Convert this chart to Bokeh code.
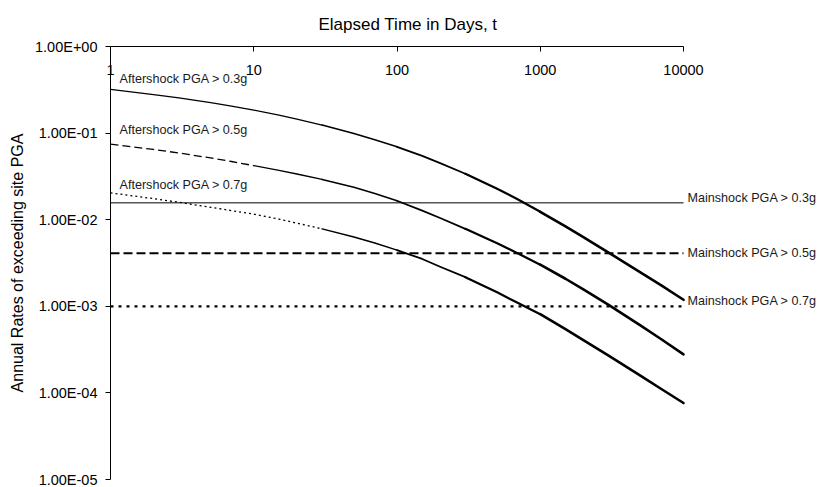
from bokeh.plotting import figure
from bokeh.models import FixedTicker, CustomJSTickFormatter, Range1d
from bokeh.embed import file_html
from bokeh.resources import INLINE
from bokeh.core.properties import value

# Elapsed time after the mainshock (days)
days = [1, 2, 3, 5, 7, 10, 15, 20, 30, 50, 70, 100, 150, 200, 300, 500, 700,
        1000, 1500, 2000, 3000, 5000, 7000, 10000]

# Annual rates of exceeding site PGA from aftershocks
after_03 = [0.32, 0.2786, 0.2547, 0.2249, 0.2051, 0.1841, 0.161, 0.1452, 0.1239,
            0.0989, 0.0839, 0.0695, 0.0545, 0.0451, 0.0339, 0.0228, 0.0171, 0.01233,
            0.00836, 0.00628, 0.00417, 0.00247, 0.00174, 0.00119]
after_05 = [0.0748, 0.0647, 0.0589, 0.0517, 0.0470, 0.0421, 0.0371, 0.0337, 0.0292,
            0.0237, 0.0201, 0.01656, 0.01274, 0.01047, 0.00785, 0.00535, 0.00408,
            0.00302, 0.00208, 0.00157, 0.00104, 0.000602, 0.000416, 0.000279]
after_07 = [0.0204, 0.0175, 0.0159, 0.0139, 0.01273, 0.01159, 0.01016, 0.00912,
            0.00784, 0.00630, 0.00538, 0.00445, 0.00352, 0.00286, 0.00217, 0.00145,
            0.00109, 0.00081, 0.000545, 0.000408, 0.00027, 0.000158, 0.000111,
            0.0000764]

# Mainshock (time-independent) rates
main_rates = [0.0157, 0.0041, 0.001]

after_labels = ["Aftershock PGA > 0.3g", "Aftershock PGA > 0.5g", "Aftershock PGA > 0.7g"]
main_labels = ["Mainshock PGA > 0.3g", "Mainshock PGA > 0.5g", "Mainshock PGA > 0.7g"]

x_ticks = [1, 10, 100, 1000, 10000]
y_ticks = [1e-5, 1e-4, 1e-3, 1e-2, 1e-1, 1.0]

FONT = "Liberation Sans"

# The frame runs to the right edge so the captions past t = 10000 stay inside it;
# the time axis itself is bounded to 1..10000.
W, LEFT, AXIS_PX = 817, 110, 573
x_end = 10 ** (4 * (W - LEFT) / AXIS_PX)

p = figure(width=W, height=487, x_axis_type="log", y_axis_type="log",
           x_range=Range1d(1, x_end), y_range=Range1d(1e-5, 1.0),
           x_axis_location="above", output_backend="svg", toolbar_location=None,
           min_border_left=LEFT, min_border_right=0, min_border_top=44,
           min_border_bottom=8)
p.outline_line_color = None
p.xgrid.visible = False
p.ygrid.visible = False
p.background_fill_color = "white"
p.border_fill_color = "white"

# time-axis caption, centred over the 1..10000 span
p.title.text = "Elapsed Time in Days, t"
p.title.align = "left"
p.title.offset = 208
p.title.standoff = 25
p.title.text_font = FONT
p.title.text_font_size = "17px"
p.title.text_font_style = "normal"
p.title.text_color = "black"

# top (time) axis: ticks and labels sit inside the frame
xa = p.xaxis[0]
xa.bounds = (x_ticks[0], x_ticks[-1])
xa.ticker = FixedTicker(ticks=x_ticks, minor_ticks=[])
xa.formatter = CustomJSTickFormatter(code="return tick.toFixed(0);")
xa.major_tick_in = 5
xa.major_tick_out = 0
xa.minor_tick_line_color = None
xa.axis_line_color = "black"
xa.major_tick_line_color = "black"
xa.major_label_standoff = -28
xa.major_label_text_font = FONT
xa.major_label_text_font_size = "14.5px"
xa.major_label_text_color = "black"

ya = p.yaxis[0]
ya.ticker = FixedTicker(ticks=y_ticks, minor_ticks=[])
ya.major_tick_in = 0
ya.major_tick_out = 5
ya.minor_tick_line_color = None
ya.axis_line_color = "black"
ya.major_tick_line_color = "black"
ya.major_label_standoff = 8
ya.major_label_text_font = FONT
ya.major_label_text_font_size = "14.5px"
ya.major_label_text_color = "black"
ya.formatter = CustomJSTickFormatter(code="""
const e = Math.round(Math.log10(tick));
const m = tick / Math.pow(10, e);
const a = Math.abs(e);
return m.toFixed(2) + 'E' + (e < 0 ? '-' : '+') + (a < 10 ? '0' : '') + a;
""")
ya.axis_label = "Annual Rates of exceeding site PGA"
ya.axis_label_text_font = FONT
ya.axis_label_text_font_size = "16px"
ya.axis_label_text_font_style = "normal"
ya.axis_label_text_color = "black"
ya.axis_label_standoff = 6

# mainshock levels across the whole time span
main_styles = [("solid", "#555555", 1.5), ("9 4", "black", 2.0), ("3 5", "black", 2.2)]
for rate, (dash, color, w) in zip(main_rates, main_styles):
    p.line([x_ticks[0], x_ticks[-1]], [rate, rate], line_color=color,
           line_width=w, line_dash=dash)


def draw_curve(rates, early_dash, dash_until):
    # early part in its own dash style, then solid strokes that thicken with time
    pieces = [(1, dash_until, early_dash, 1.3),
              (dash_until, 30, "solid", 1.3),
              (30, 100, "solid", 1.5),
              (100, 300, "solid", 1.8),
              (300, 1000, "solid", 2.2),
              (1000, 10000, "solid", 2.6)]
    for lo, hi, dash, w in pieces:
        xs = [t for t in days if lo <= t <= hi]
        ys = [r for t, r in zip(days, rates) if lo <= t <= hi]
        if len(xs) >= 2:
            p.line(xs, ys, line_color="black", line_width=w, line_dash=dash,
                   line_join="round", line_cap="round" if dash == "solid" else "butt")


draw_curve(after_03, "solid", 1)
draw_curve(after_05, "8 4", 10)
draw_curve(after_07, "2 3", 30)

# curve captions near t = 1
after_y = [after_03[0], after_05[0], after_07[0]]
after_dy = [-10.5, -14.5, -7.5]
for lab, y, dy in zip(after_labels, after_y, after_dy):
    p.text(x=[days[0]], y=[y], text=[lab], x_offset=9, y_offset=dy,
           text_font=value(FONT), text_font_size="12.6px", text_color="#1a1a1a",
           text_baseline="middle", text_align="left")

# mainshock captions just past the right end of each level
main_dy = [-4.5, 0, -5.5]
for lab, y, dy in zip(main_labels, main_rates, main_dy):
    p.text(x=[days[-1]], y=[y], text=[lab], x_offset=4, y_offset=dy,
           text_font=value(FONT), text_font_size="12.6px", text_color="#1a1a1a",
           text_baseline="middle", text_align="left")

open("out.html", "w").write(file_html(p, INLINE))
